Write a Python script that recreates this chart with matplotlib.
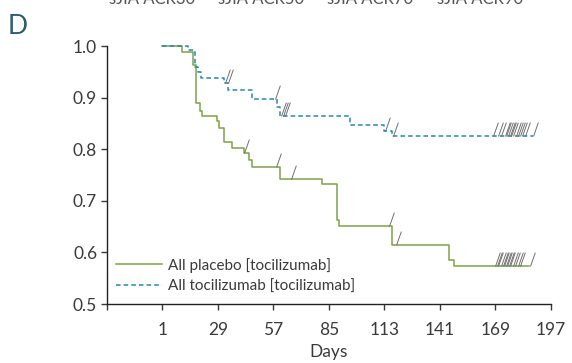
import matplotlib.pyplot as plt
from matplotlib.path import Path

plt.rcParams['font.family'] = ['Lato', 'DejaVu Sans']

# Kaplan-Meier steps: day of each step and survival after the step
placebo_days = [1, 11, 16.5, 18, 20, 21, 28.5, 29.5, 32, 36, 42, 44.5, 46,
                60.5, 81.5, 89, 90, 117, 145.5, 148, 186]
placebo_surv = [1.0, 0.988, 0.963, 0.889, 0.875, 0.864, 0.855, 0.841, 0.815,
                0.802, 0.792, 0.780, 0.765, 0.742, 0.732, 0.663, 0.651, 0.614,
                0.585, 0.574, 0.574]
placebo_cens_days = [42, 58.5, 66, 115.5, 119, 168.7, 169.6, 170.4, 172.1,
                     172.9, 173.6, 174.2, 174.9, 175.7, 176.6, 177.9, 178.9,
                     180.4, 181.3, 186.3]
placebo_cens_surv = [0.792, 0.765, 0.742, 0.651, 0.614] + [0.574] * 15

toci_days = [1, 14, 17.3, 19, 20.6, 32, 34, 46.3, 58.7, 60.4, 95.5, 113, 117,
             188]
toci_surv = [1.0, 0.992, 0.960, 0.950, 0.939, 0.928, 0.915, 0.897, 0.882,
             0.865, 0.847, 0.836, 0.826, 0.826]
toci_cens_days = [32.5, 34, 58, 61, 62, 63, 113.5, 117.5, 167.8, 170.4, 171.6,
                  173.7, 174.6, 175.4, 176.3, 177.1, 177.9, 179.6, 180.4,
                  181.3, 182.6, 183.8, 188]
toci_cens_surv = [0.928, 0.928, 0.897, 0.865, 0.865, 0.865, 0.836, 0.826] + [0.826] * 15

day_ticks = [-27, 1, 29, 57, 85, 113, 141, 169, 197]
day_labels = [''] + [str(d) for d in day_ticks[1:]]
surv_ticks = [0.5, 0.6, 0.7, 0.8, 0.9, 1.0]
header = ['sJIA ACR30', 'sJIA ACR50', 'sJIA ACR70', 'sJIA ACR90']

green = '#7ea04a'
blue = '#2a86a6'
grey = '#707070'
text_col = '#3a3a3a'

# slanted tick used for censored observations
cens_marker = Path([(0, 0), (0.35, 1)], [Path.MOVETO, Path.LINETO])

fig = plt.figure(figsize=(5.72, 3.63), dpi=100)
ax = fig.add_axes([0.187, 0.1625, 0.776, 0.7105])

ax.step(placebo_days, placebo_surv, where='post', color=green, lw=1.1,
        label='All placebo [tocilizumab]', clip_on=False)
ax.step(toci_days, toci_surv, where='post', color=blue, lw=1.1,
        ls=(0, (3, 2)), label='All tocilizumab [tocilizumab]', clip_on=False)
ax.plot(placebo_cens_days, placebo_cens_surv, ls='none', marker=cens_marker,
        ms=20, mec=grey, mew=0.7, clip_on=False)
ax.plot(toci_cens_days, toci_cens_surv, ls='none', marker=cens_marker,
        ms=20, mec=grey, mew=0.7, clip_on=False)

ax.set_xlim(-27, 197)
ax.set_ylim(0.5, 1.0)
ax.set_xticks(day_ticks)
ax.set_xticklabels(day_labels)
ax.set_yticks(surv_ticks)
ax.set_yticklabels([f'{v:.1f}' for v in surv_ticks])
ax.tick_params(axis='both', labelsize=12.5, colors=text_col, length=4,
               width=1, pad=3)
ax.tick_params(axis='x', pad=9)
for side in ['top', 'right']:
    ax.spines[side].set_visible(False)
for side in ['left', 'bottom']:
    ax.spines[side].set_color('#222222')
    ax.spines[side].set_linewidth(1)
ax.set_xlabel('Days', fontsize=12.5, color=text_col, labelpad=4)

leg = ax.legend(loc='lower left', bbox_to_anchor=(0.02, 0.04), frameon=False,
                fontsize=11, handlelength=3.0, handletextpad=0.4,
                labelspacing=0.45, borderaxespad=0.0, borderpad=0.0)
for t in leg.get_texts():
    t.set_color(text_col)

fig.text(0.014, 0.905, 'D', fontsize=19, color='#2e5c66')
for x, h in zip([0.266, 0.456, 0.647, 0.839], header):
    fig.text(x, 1 - 4 / 363, h, fontsize=12, color='#555555',
             ha='center', va='baseline')

fig.savefig('out.png', dpi=100)
